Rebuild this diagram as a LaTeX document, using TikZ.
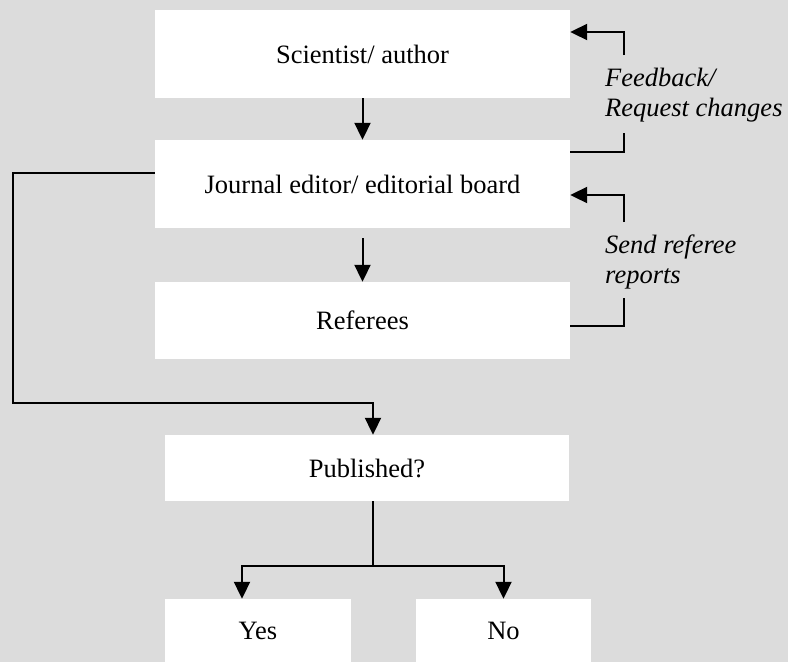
\documentclass[tikz,border=0pt]{standalone}
\usepackage{fontspec}
\setmainfont{Liberation Serif}
\usepackage{xcolor}
\usepackage{tikz}
\usetikzlibrary{arrows.meta, positioning}

\definecolor{bggray}{RGB}{220,220,220}

\tikzset{
  box/.style={fill=white, inner sep=0pt, font=\fontsize{26.5}{30}\selectfont},
  lbl/.style={anchor=west, align=left, inner sep=0pt, font=\fontsize{26.5}{30}\selectfont\itshape},
  link/.style={line width=2pt},
  arr/.style={line width=2pt, -{Triangle[length=17pt, width=16pt]}}
}

\begin{document}
\begin{tikzpicture}[x=1pt, y=-1pt]
\fill[bggray] (0,0) rectangle (788,662);
\useasboundingbox (0,0) rectangle (788,662);

% boxes
\node[box, minimum width=415pt, minimum height=88pt] (author) at (362.5,54) {Scientist/ author};
\node[box, minimum width=415pt, minimum height=88pt] (editor) at (362.5,184) {Journal editor/ editorial board};
\node[box, minimum width=415pt, minimum height=77pt] (referees) at (362.5,320.5) {Referees};
\node[box, minimum width=404pt, minimum height=66pt] (pub) at (367,468) {Published?};
\node[box, minimum width=186pt, minimum height=63pt] (yes) at (258,630.5) {Yes};
\node[box, minimum width=175pt, minimum height=63pt] (no) at (503.5,630.5) {No};

% side labels
\node[lbl] (feedback) at (605,95) {Feedback/\\Request changes};
\node[lbl] (sendrep) at (605,262) {Send referee\\reports};

\coordinate (fbin) at (624,133);
\coordinate (fbout) at (624,55);
\coordinate (rrin) at (624,298);
\coordinate (rrout) at (624,222);
\coordinate (loopc) at (13,403);
\coordinate (split) at (373,566);

% main flow
\draw[arr] (author) -- (editor);
\draw[arr, shorten <=10pt] (editor) -- (referees);
\draw[arr] ([yshift=11pt]editor.west) -| (loopc) -| ([xshift=6pt]pub.north);

% feedback loops
\draw[link] ([yshift=32pt]editor.east) -| (fbin);
\draw[arr] (fbout) |- ([yshift=22pt]author.east);
\draw[link] ([yshift=-5.5pt]referees.east) -| (rrin);
\draw[arr] (rrout) |- ([yshift=-11pt]editor.east);

% outcome
\draw[link] ([xshift=6pt]pub.south) -- (split);
\draw[arr] (split) -| ([xshift=-16pt]yes.north);
\draw[arr] (split) -| (no.north);
\end{tikzpicture}
\end{document}
